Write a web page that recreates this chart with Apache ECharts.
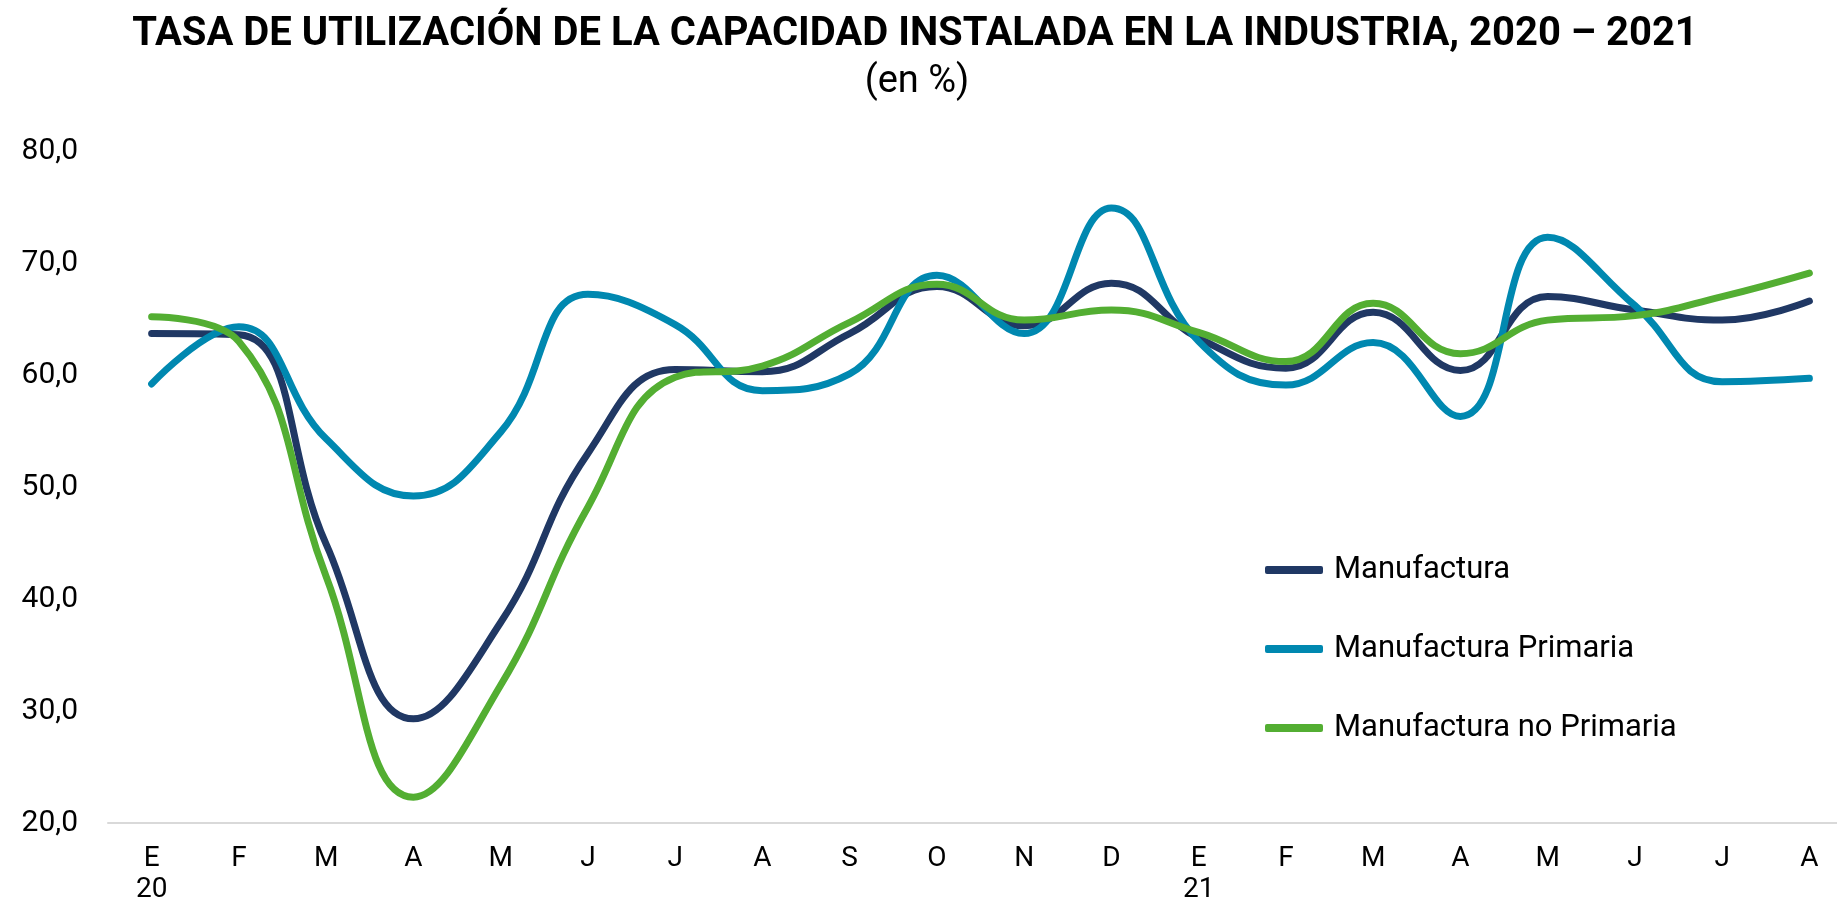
<!DOCTYPE html>
<html>
<head>
<meta charset="utf-8">
<script src="https://cdn.jsdelivr.net/npm/echarts@6/dist/echarts.min.js"></script>
<style>
  html, body { margin: 0; padding: 0; background: #ffffff; }
  #char1 { width: 1837px; height: 903px; }
</style>
</head>
<body>
<div id="char1"></div>
<script>
// meses: enero 2020 a agosto 2021
var months = ['E\n20', 'F', 'M', 'A', 'M', 'J', 'J', 'A', 'S', 'O', 'N', 'D',
    'E\n21', 'F', 'M', 'A', 'M', 'J', 'J', 'A'];

var manufactura = [63.7, 63.6, 44.9, 29.3, 37.9, 53.0, 60.5, 60.3, 63.7, 67.9,
    64.4, 68.2, 63.3, 60.6, 65.6, 60.4, 67.0, 65.8, 64.9, 66.6];

var primaria = [59.2, 64.3, 54.3, 49.2, 54.9, 67.2, 64.5, 58.6, 60.1, 68.9,
    63.7, 74.9, 63.0, 59.1, 62.9, 56.3, 72.3, 66.2, 59.4, 59.7];

var noPrimaria = [65.2, 63.0, 42.0, 22.3, 32.3, 48.2, 59.8, 60.8, 64.7, 68.1,
    64.9, 65.8, 63.8, 61.2, 66.4, 61.9, 64.9, 65.3, 67.0, 69.1];

var seriesNames = ['Manufactura', 'Manufactura Primaria', 'Manufactura no Primaria'];

function char1() {
    var myChart = echarts.init(document.getElementById('char1'));

    function line(name, data, color) {
        return {
            name: name,
            type: 'line',
            data: data,
            smooth: 0.45,
            symbol: 'none',
            lineStyle: { color: color, width: 7, cap: 'round' },
            itemStyle: { color: color }
        };
    }

    var option = {
        backgroundColor: '#ffffff',
        textStyle: { fontFamily: 'Roboto' },
        title: [{
            text: 'TASA DE UTILIZACIÓN DE LA CAPACIDAD INSTALADA EN LA INDUSTRIA, 2020 – 2021',
            left: 910,
            textAlign: 'center',
            top: 10,
            textStyle: { fontFamily: 'Roboto', fontWeight: 'bold', fontSize: 40, color: '#000000' }
        }, {
            text: '(en %)',
            left: 912,
            textAlign: 'center',
            top: 58,
            textStyle: { fontFamily: 'Roboto', fontWeight: 'normal', fontSize: 38, color: '#000000' }
        }],
        legend: {
            orient: 'vertical',
            left: 1260,
            top: 545,
            icon: 'roundRect',
            itemWidth: 58,
            itemHeight: 8,
            itemGap: 39,
            data: seriesNames,
            textStyle: { fontFamily: 'Roboto', fontSize: 31, color: '#000000', lineHeight: 40, padding: [0, 0, 0, 6] }
        },
        grid: {
            left: 108,
            right: -16,
            top: 151,
            bottom: 80,
            outerBoundsMode: 'none'
        },
        xAxis: {
            type: 'category',
            boundaryGap: true,
            data: months,
            axisLine: { show: true, lineStyle: { color: '#d9d9d9', width: 2 } },
            axisTick: { show: false },
            splitLine: { show: false },
            axisLabel: {
                interval: 0,
                margin: 20,
                fontFamily: 'Roboto',
                fontSize: 28,
                lineHeight: 31,
                color: '#000000'
            }
        },
        yAxis: {
            type: 'value',
            min: 20,
            max: 80,
            interval: 10,
            axisLine: { show: false },
            axisTick: { show: false },
            splitLine: { show: false },
            axisLabel: {
                margin: 30,
                fontFamily: 'Roboto',
                fontSize: 30,
                color: '#000000',
                formatter: function (v) { return v.toFixed(1).replace('.', ','); }
            }
        },
        series: [
            line(seriesNames[0], manufactura, '#203864'),
            line(seriesNames[1], primaria, '#0088b0'),
            line(seriesNames[2], noPrimaria, '#53ae32')
        ]
    };

    myChart.setOption(option);
    window.addEventListener('resize', function () { myChart.resize(); });
}

char1();
</script>
</body>
</html>
